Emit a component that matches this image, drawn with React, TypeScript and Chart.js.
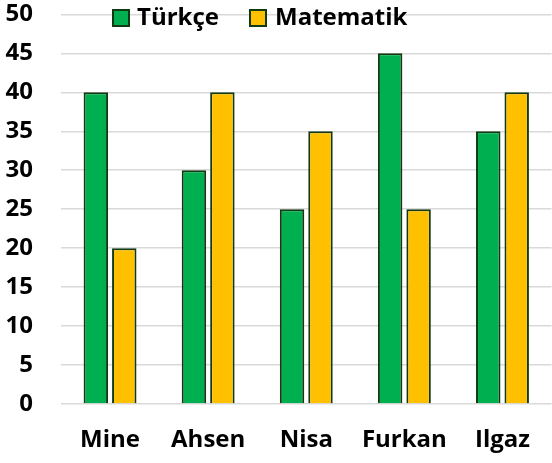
import React, { useEffect, useRef } from "react";
import { Chart, registerables } from "chart.js";

Chart.register(...registerables);

const categories = ["Mine", "Ahsen", "Nisa", "Furkan", "Ilgaz"];
const seriesNames = ["Türkçe", "Matematik"];
const turkceValues = [40, 30, 25, 45, 35];
const matematikValues = [20, 40, 35, 25, 40];
const yTicks = [0, 5, 10, 15, 20, 25, 30, 35, 40, 45, 50];

const GREEN = "#00b050";
const YELLOW = "#ffc000";
const EDGE = "#123a12";
const FONT = "'Open Sans', sans-serif";

const legendPlugin = {
  id: "customLegend",
  afterDraw(chart: any) {
    const ctx = chart.ctx;
    const items = chart.data.datasets.map((d: any) => ({ label: d.label, color: d.backgroundColor }));
    const xs = [113, 250];
    const tx = [137, 275];
    ctx.save();
    ctx.font = `bold 24px ${FONT}`;
    ctx.textBaseline = "middle";
    ctx.textAlign = "left";
    items.forEach((it: any, i: number) => {
      const x = xs[i];
      ctx.fillStyle = it.color;
      ctx.fillRect(x, 10, 16, 16);
      ctx.strokeStyle = EDGE;
      ctx.lineWidth = 2;
      ctx.strokeRect(x, 10, 16, 16);
      ctx.fillStyle = "#000";
      ctx.fillText(it.label, tx[i], 18);
    });
    ctx.restore();
  },
};

export default function App() {
  const ref = useRef<HTMLCanvasElement | null>(null);
  useEffect(() => {
    document.body.style.margin = "0";
    const chart = new Chart(ref.current as HTMLCanvasElement, {
      type: "bar",
      data: {
        labels: categories,
        datasets: [
          {
            label: seriesNames[0],
            data: turkceValues,
            backgroundColor: GREEN,
            borderColor: EDGE,
            borderWidth: 2,
            barPercentage: 0.86,
            categoryPercentage: 0.58,
          },
          {
            label: seriesNames[1],
            data: matematikValues,
            backgroundColor: YELLOW,
            borderColor: EDGE,
            borderWidth: 2,
            barPercentage: 0.86,
            categoryPercentage: 0.58,
          },
        ],
      },
      options: {
        animation: false,
        responsive: false,
        layout: { padding: { top: 0, right: 0, left: 0, bottom: 0 } },
        plugins: {
          legend: { display: false },
          tooltip: { enabled: false },
        },
        scales: {
          x: {
            grid: { display: false, drawTicks: false },
            border: { display: false },
            ticks: {
              color: "#000",
              padding: 22,
              font: { family: FONT, size: 24, weight: "bold" },
            },
            afterFit(scale: any) {
              scale.height = 59;
            },
          },
          y: {
            min: 0,
            max: 50,
            afterBuildTicks(scale: any) {
              scale.ticks = yTicks.map((v) => ({ value: v }));
            },
            grid: {
              color: "#d9d9d9",
              lineWidth: 1.5,
              drawTicks: true,
              tickLength: 28,
              tickColor: "rgba(0,0,0,0)",
            },
            border: { display: false },
            ticks: {
              color: "#000",
              padding: 0,
              font: { family: FONT, size: 24, weight: "bold" },
            },
            afterFit(scale: any) {
              scale.width = 61;
            },
          },
        },
      },
      plugins: [legendPlugin],
    });
    return () => chart.destroy();
  }, []);
  return (
    <div style={{ width: 552, height: 463 }}>
      <canvas ref={ref} width={552} height={463} style={{ display: "block" }} />
    </div>
  );
}
